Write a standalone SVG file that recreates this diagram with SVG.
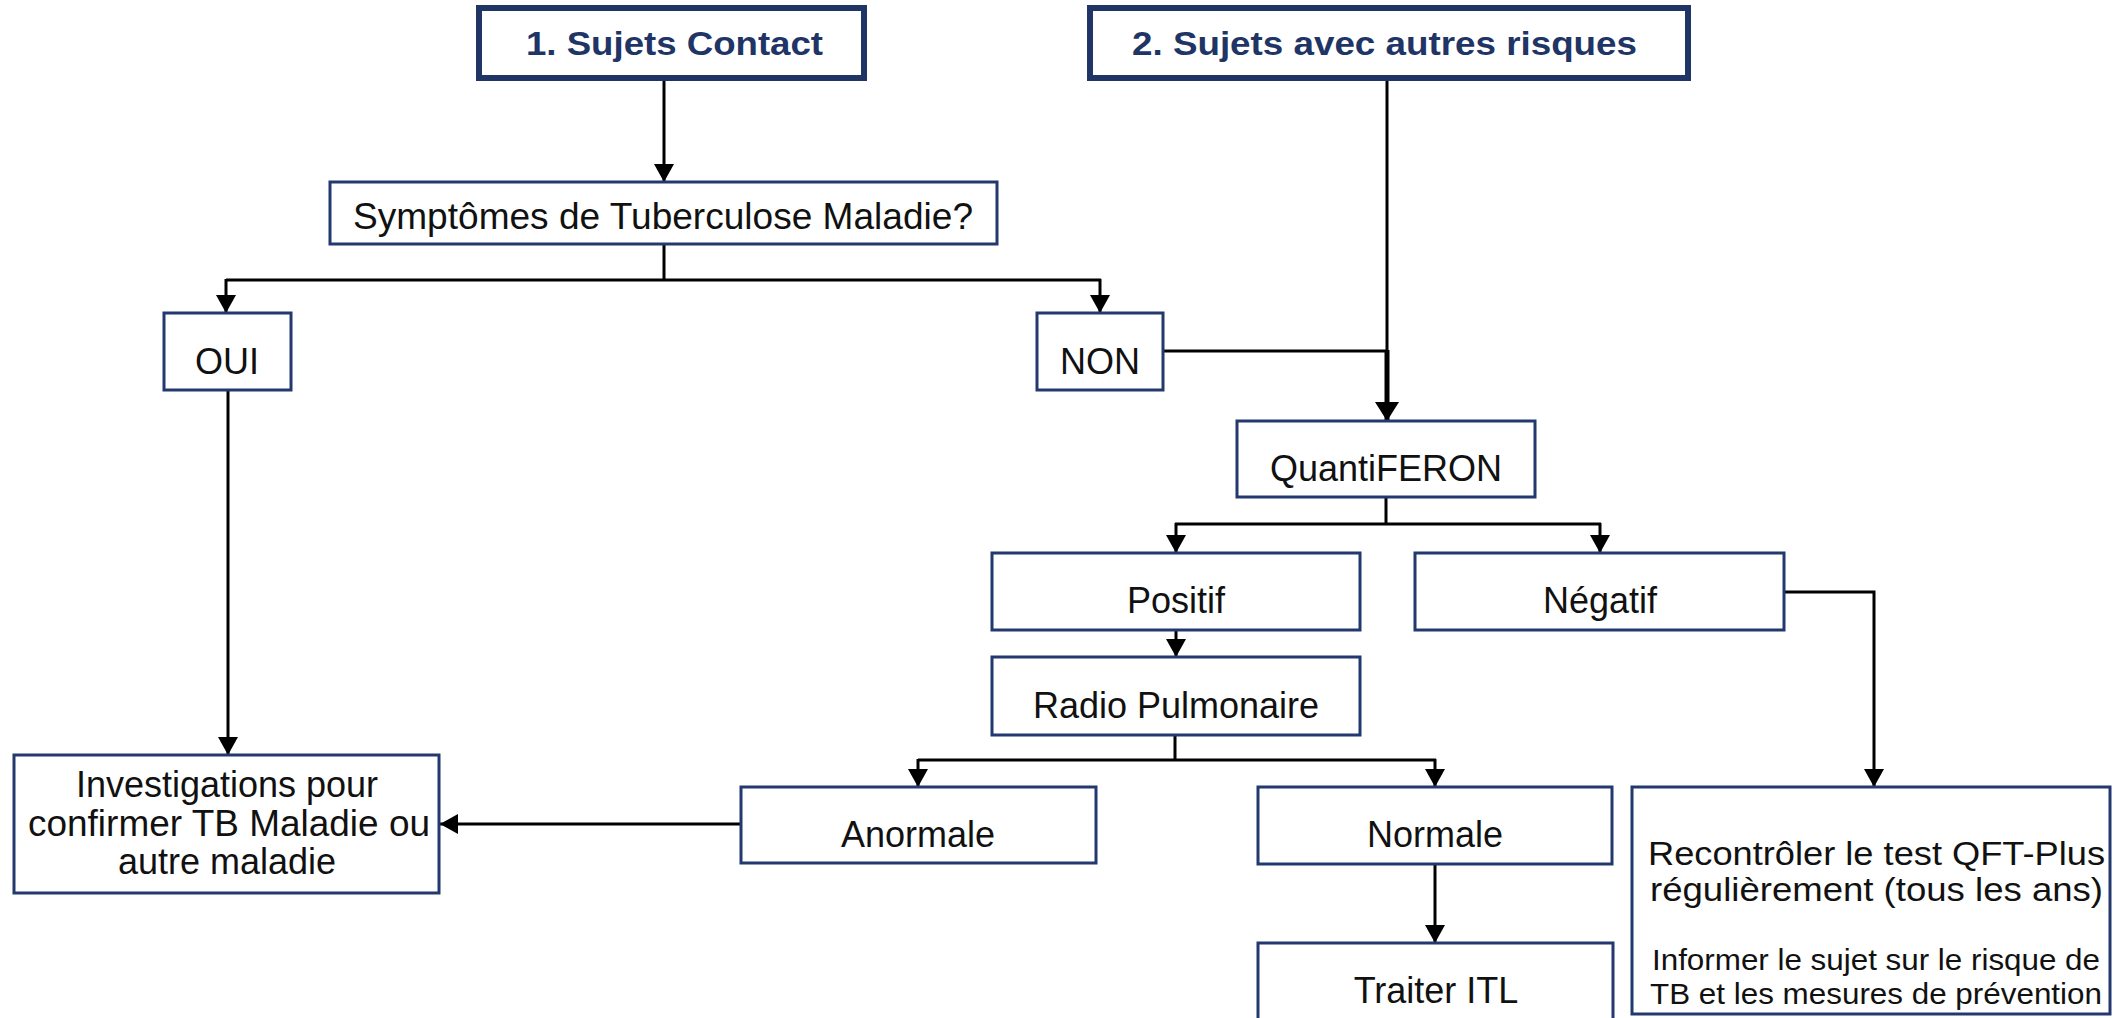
<svg xmlns="http://www.w3.org/2000/svg" width="2113" height="1018" viewBox="0 0 2113 1018">
<style>
.node{fill:#fff;stroke:#22386e;stroke-width:3}
.title{fill:#fff;stroke:#1f3566;stroke-width:6}
.t{font-family:"Liberation Sans",Arial,sans-serif;font-size:36px;fill:#111}
.tt{font-family:"Liberation Sans",Arial,sans-serif;font-size:34px;font-weight:bold;fill:#1f3566}
.m{text-anchor:middle}
.c{fill:none;stroke:#000;stroke-width:3}
.ck{fill:none;stroke:#000;stroke-width:5}
</style>
<defs>
<marker id="ah" markerUnits="userSpaceOnUse" markerWidth="20" markerHeight="22" refX="18" refY="10" orient="auto">
<path d="M0,0 L18,10 L0,20 Z" fill="#000"/>
</marker>
<marker id="ahb" markerUnits="userSpaceOnUse" markerWidth="22" markerHeight="26" refX="19" refY="12" orient="auto">
<path d="M0,0 L19,12 L0,24 Z" fill="#000"/>
</marker>
</defs>
<rect width="2113" height="1018" fill="#fff"/>
<g id="connectors">
<path class="c" d="M664,78 V182" marker-end="url(#ah)"/>
<path class="c" d="M664,244 V280 M226,280 H1101"/>
<path class="c" d="M226,279 V313" marker-end="url(#ah)"/>
<path class="c" d="M1100,279 V313" marker-end="url(#ah)"/>
<path class="c" d="M1387,78 V352"/>
<path class="c" d="M1163,351 H1387"/>
<path class="ck" d="M1387,350 V421" marker-end="url(#ahb)"/>
<path class="c" d="M228,390 V755" marker-end="url(#ah)"/>
<path class="c" d="M1386,497 V524 M1175,524 H1601"/>
<path class="c" d="M1176,523 V553" marker-end="url(#ah)"/>
<path class="c" d="M1600,523 V553" marker-end="url(#ah)"/>
<path class="c" d="M1176,630 V657" marker-end="url(#ah)"/>
<path class="c" d="M1784,592 H1874 V787" marker-end="url(#ah)"/>
<path class="c" d="M1175,735 V760 M918,760 H1436"/>
<path class="c" d="M918,759 V787" marker-end="url(#ah)"/>
<path class="c" d="M1435,759 V787" marker-end="url(#ah)"/>
<path class="c" d="M741,824 H440" marker-end="url(#ah)"/>
<path class="c" d="M1435,864 V943" marker-end="url(#ah)"/>
</g>
<g id="n-contact">
<rect class="title" x="479" y="8" width="385" height="70"/>
<text class="tt" x="526" y="55" textLength="297" lengthAdjust="spacingAndGlyphs">1. Sujets Contact</text>
</g>
<g id="n-autres">
<rect class="title" x="1090" y="8" width="598" height="70"/>
<text class="tt" x="1132" y="55" textLength="505" lengthAdjust="spacingAndGlyphs">2. Sujets avec autres risques</text>
</g>
<g id="n-symptomes">
<rect class="node" x="330" y="182" width="667" height="62"/>
<text class="t" x="353" y="229" textLength="620" lengthAdjust="spacingAndGlyphs">Symptômes de Tuberculose Maladie?</text>
</g>
<g id="n-oui">
<rect class="node" x="164" y="313" width="127" height="77"/>
<text class="t m" x="227" y="374">OUI</text>
</g>
<g id="n-non">
<rect class="node" x="1037" y="313" width="126" height="77"/>
<text class="t m" x="1100" y="374">NON</text>
</g>
<g id="n-quantiferon">
<rect class="node" x="1237" y="421" width="298" height="76"/>
<text class="t m" x="1386" y="481">QuantiFERON</text>
</g>
<g id="n-positif">
<rect class="node" x="992" y="553" width="368" height="77"/>
<text class="t m" x="1176" y="613">Positif</text>
</g>
<g id="n-negatif">
<rect class="node" x="1415" y="553" width="369" height="77"/>
<text class="t m" x="1600" y="613">Négatif</text>
</g>
<g id="n-radio">
<rect class="node" x="992" y="657" width="368" height="78"/>
<text class="t m" x="1176" y="718">Radio Pulmonaire</text>
</g>
<g id="n-investigations">
<rect class="node" x="14" y="755" width="425" height="138"/>
<text class="t m" x="227" y="797">Investigations pour</text>
<text class="t" x="28" y="836" textLength="402" lengthAdjust="spacingAndGlyphs">confirmer TB Maladie ou</text>
<text class="t m" x="227" y="874">autre maladie</text>
</g>
<g id="n-anormale">
<rect class="node" x="741" y="787" width="355" height="76"/>
<text class="t m" x="918" y="847">Anormale</text>
</g>
<g id="n-normale">
<rect class="node" x="1258" y="787" width="354" height="77"/>
<text class="t m" x="1435" y="847">Normale</text>
</g>
<g id="n-traiter">
<rect class="node" x="1258" y="943" width="355" height="80"/>
<text class="t m" x="1436" y="1003">Traiter ITL</text>
</g>
<g id="n-recontroler">
<rect class="node" x="1632" y="787" width="478" height="227"/>
<text class="t" style="font-size:34px" x="1648" y="865" textLength="457" lengthAdjust="spacingAndGlyphs">Recontrôler le test QFT-Plus</text>
<text class="t" style="font-size:34px" x="1650" y="901" textLength="453" lengthAdjust="spacingAndGlyphs">régulièrement (tous les ans)</text>
<text class="t" style="font-size:30px" x="1652" y="970" textLength="448" lengthAdjust="spacingAndGlyphs">Informer le sujet sur le risque de</text>
<text class="t" style="font-size:30px" x="1650" y="1004" textLength="452" lengthAdjust="spacingAndGlyphs">TB et les mesures de prévention</text>
</g>
</svg>
